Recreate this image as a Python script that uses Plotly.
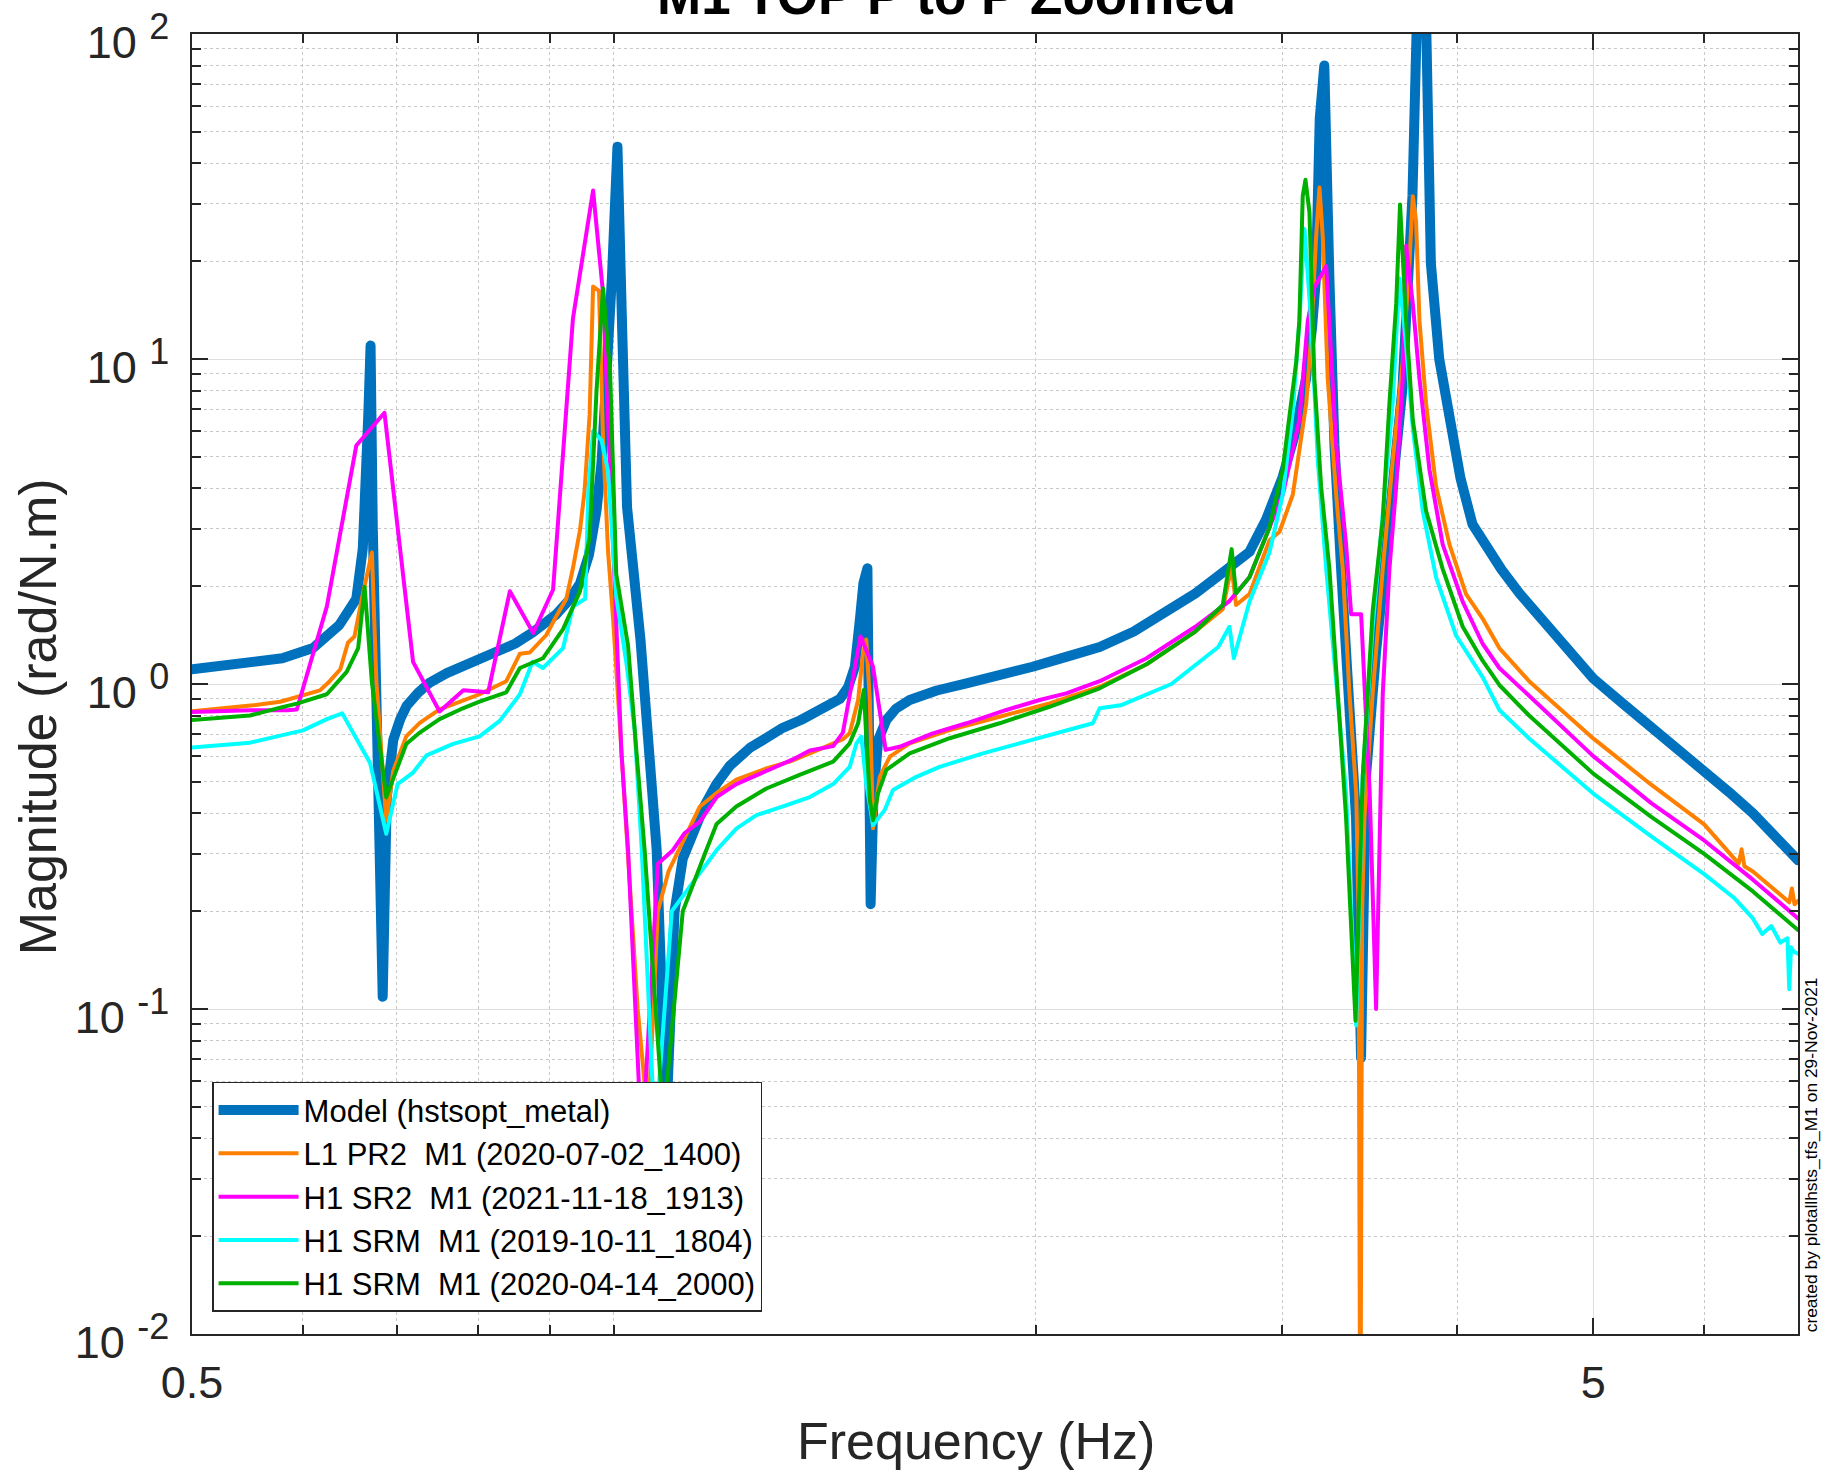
import plotly.graph_objects as go
import numpy as np

# ---------------- data ----------------
model_f = [0.50, 0.55, 0.58, 0.61, 0.637, 0.655, 0.662, 0.668, 0.6705, 0.673, 0.677, 0.681, 0.684,
           0.6886, 0.696, 0.704, 0.7115, 0.725, 0.739, 0.76, 0.781, 0.80, 0.825, 0.85, 0.875, 0.895,
           0.910, 0.93, 0.946, 0.96, 0.972, 0.98, 0.985, 0.992, 0.997, 1.002, 1.006,
           1.014, 1.022, 1.045, 1.073, 1.09, 1.105, 1.12, 1.139, 1.16, 1.1835, 1.21, 1.25, 1.28,
           1.32, 1.36, 1.395, 1.43, 1.45, 1.47, 1.486,
           1.499, 1.507, 1.517, 1.525, 1.532, 1.544, 1.565, 1.59, 1.626, 1.70, 1.785, 1.88, 1.99,
           2.1, 2.222, 2.35, 2.5, 2.6, 2.7, 2.78, 2.842, 2.92, 3.0, 3.06,
           3.119, 3.15, 3.17, 3.19, 3.214, 3.241, 3.268, 3.304, 3.349, 3.386, 3.414, 3.442, 3.499, 3.576,
           3.655, 3.715, 3.746, 3.77, 3.794, 3.808, 3.829, 3.882, 3.946, 4.02, 4.1, 4.2, 4.3, 4.43,
           4.6, 4.8, 5.0, 5.25, 5.5, 5.75, 6.0, 6.25, 6.5, 6.75, 7.0]
model_m = [1.11, 1.17, 1.20, 1.29, 1.52, 1.83, 2.61, 6.7, 11.0, 3.0, 0.8, 0.3, 0.109,
           0.448, 0.673, 0.78, 0.857, 0.94, 1.01, 1.08, 1.14, 1.19, 1.25, 1.33, 1.44, 1.54,
           1.64, 1.82, 2.04, 2.5, 3.42, 4.8, 6.73, 11.0, 18.0, 30.0, 45.0,
           12.0, 3.50, 1.356, 0.308, 0.045, 0.2, 0.29, 0.348, 0.42, 0.492, 0.56, 0.635, 0.68,
           0.733, 0.775, 0.817, 0.87, 0.90, 0.98, 1.13,
           1.61, 2.04, 2.27, 0.21, 0.45, 0.673, 0.775, 0.84, 0.893, 0.955, 1.005, 1.06, 1.13,
           1.21, 1.30, 1.45, 1.70, 1.9, 2.15, 2.35, 2.55, 3.2, 4.31, 5.8,
           8.7, 12.5, 17.7, 55.0, 80.0, 17.7, 5.45, 2.26, 0.936, 0.388, 0.0707, 0.521, 1.25, 3.03,
           8.2, 31.8, 110.0, 400.0, 150.0, 40.0, 19.7, 10.0, 6.5, 4.3, 3.1, 2.6, 2.25, 1.9,
           1.58, 1.28, 1.04, 0.87, 0.74, 0.63, 0.54, 0.465, 0.40, 0.34, 0.287]

l1pr2_f = [0.50, 0.53, 0.555, 0.578, 0.597, 0.617, 0.627, 0.638, 0.646, 0.653, 0.661, 0.672, 0.677,
           0.688, 0.696, 0.711, 0.727, 0.751, 0.777, 0.802, 0.838, 0.857, 0.871, 0.895, 0.910, 0.925,
           0.935, 0.946, 0.953, 0.961, 0.9665, 0.976, 0.9825, 0.9906, 0.9988, 1.007, 1.0126, 1.0237,
           1.04, 1.058, 1.075, 1.094, 1.133, 1.152, 1.184, 1.223, 1.285, 1.335, 1.395, 1.457, 1.4735,
           1.494, 1.506, 1.514, 1.523, 1.531, 1.548, 1.574, 1.626, 1.7365, 1.885, 2.046, 2.222, 2.4,
           2.6, 2.72, 2.76, 2.78, 2.842, 2.937, 2.986, 3.052, 3.120, 3.145, 3.171, 3.1885, 3.206,
           3.232, 3.277, 3.313, 3.3495, 3.387, 3.40, 3.41, 3.42, 3.433, 3.480, 3.538, 3.596, 3.656,
           3.6965, 3.717, 3.737, 3.758, 3.799, 3.862, 3.9475, 4.057, 4.169, 4.285, 4.5, 5.0, 5.5,
           6.0, 6.35, 6.38, 6.41, 6.5, 6.9, 6.93, 6.96, 7.0]
l1pr2_m = [0.825, 0.845, 0.862, 0.882, 0.918, 0.956, 1.02, 1.11, 1.34, 1.40, 1.83, 2.54, 1.01,
           0.38, 0.541, 0.690, 0.759, 0.835, 0.882, 0.930, 1.02, 1.24, 1.25, 1.415, 1.62, 1.83,
           2.27, 2.98, 3.91, 6.73, 16.7, 16.2, 5.63, 2.55, 1.59, 0.899, 0.615, 0.308,
           0.1, 0.045, 0.2, 0.265, 0.359, 0.42, 0.462, 0.508, 0.550, 0.577, 0.624, 0.676, 0.705,
           0.893, 1.24, 1.37, 0.893, 0.36, 0.518, 0.598, 0.657, 0.722, 0.793, 0.872, 0.981, 1.15,
           1.45, 1.7, 2.3, 1.75, 1.89, 2.77, 2.94, 3.83, 7.3, 11.7, 23.7, 33.7, 23.7,
           8.7, 3.83, 2.26, 0.936, 0.462, 0.2, 0.003, 0.2, 0.388, 0.936, 2.26, 4.84, 9.79,
           19.8, 31.7, 26.6, 13.1, 7.3, 4.06, 2.69, 1.89, 1.59, 1.29, 1.02, 0.68, 0.49,
           0.37, 0.28, 0.31, 0.275, 0.265, 0.213, 0.235, 0.21, 0.215]

h1sr2_f = [0.50, 0.55, 0.585, 0.594, 0.624, 0.655, 0.686, 0.719, 0.751, 0.781, 0.8135, 0.843, 0.876,
           0.905, 0.935, 0.9665, 0.9825, 0.996, 1.004, 1.0126, 1.0237, 1.045, 1.05, 1.075, 1.102,
           1.1236, 1.152, 1.184, 1.223, 1.285, 1.342, 1.380, 1.434, 1.457, 1.4735, 1.500, 1.531,
           1.563, 1.599, 1.689, 1.785, 1.906, 2.013, 2.103, 2.222, 2.4, 2.6, 2.75, 2.842, 3.002,
           3.085, 3.128, 3.162, 3.224, 3.277, 3.331, 3.359, 3.4145, 3.463, 3.4995, 3.538, 3.577,
           3.617, 3.656, 3.6765, 3.717, 3.758, 3.820, 3.904, 4.035, 4.169, 4.285, 4.5, 5.0, 5.5,
           6.0, 6.5, 7.0]
h1sr2_m = [0.82, 0.83, 0.83, 0.835, 1.73, 5.42, 6.83, 1.17, 0.823, 0.956, 0.943, 1.93, 1.435,
           1.95, 13.3, 33.0, 15.9, 3.5, 1.36, 0.615, 0.308, 0.045, 0.045, 0.28, 0.308,
           0.348, 0.377, 0.449, 0.492, 0.542, 0.586, 0.624, 0.644, 0.709, 0.936, 1.40, 1.13,
           0.627, 0.641, 0.705, 0.757, 0.832, 0.893, 0.936, 1.02, 1.2, 1.5, 1.8, 2.13, 3.83,
           6.5, 13.1, 16.6, 19.3, 5.45, 2.69, 1.64, 1.64, 0.46, 0.10, 0.936, 2.26,
           4.06, 8.7, 22.3, 14.8, 8.7, 4.57, 2.69, 1.79, 1.33, 1.12, 0.92, 0.6, 0.43,
           0.33, 0.25, 0.19]

h1srm19_f = [0.50, 0.55, 0.60, 0.624, 0.640, 0.670, 0.688, 0.701, 0.719, 0.735, 0.768, 0.802, 0.829,
             0.857, 0.875, 0.890, 0.920, 0.935, 0.954, 0.959, 0.9665, 0.980, 0.9906, 1.004, 1.021,
             1.035, 1.047, 1.07, 1.10, 1.184, 1.223, 1.264, 1.3205, 1.380, 1.434, 1.4735, 1.490,
             1.502, 1.514, 1.531, 1.561, 1.582, 1.644, 1.708, 1.834, 1.990, 2.103, 2.197, 2.222,
             2.3, 2.5, 2.7, 2.75, 2.77, 2.842, 2.937, 3.002, 3.052, 3.085, 3.111, 3.145, 3.180,
             3.224, 3.277, 3.331, 3.387, 3.4235, 3.480, 3.538, 3.596, 3.636, 3.6765, 3.717, 3.778,
             3.862, 3.991, 4.169, 4.285, 4.5, 5.0, 5.5, 6.0, 6.3, 6.5, 6.6, 6.7, 6.8, 6.88, 6.9,
             6.92, 6.95, 7.0]
h1srm19_m = [0.638, 0.66, 0.72, 0.78, 0.812, 0.571, 0.346, 0.492, 0.534, 0.603, 0.654, 0.690, 0.770,
             0.930, 1.17, 1.12, 1.29, 1.73, 1.83, 3.91, 6.0, 5.63, 4.51, 1.86, 1.157,
             0.720, 0.308, 0.04, 0.2, 0.308, 0.359, 0.395, 0.42, 0.449, 0.492, 0.556, 0.657,
             0.688, 0.495, 0.368, 0.41, 0.472, 0.518, 0.556, 0.612, 0.673, 0.722, 0.757, 0.842,
             0.86, 1.0, 1.3, 1.5, 1.2, 1.79, 2.54, 3.83, 6.9, 13.1, 25.1, 13.1, 4.84,
             2.26, 1.05, 0.462, 0.089, 0.52, 1.50, 3.41, 7.3, 17.7, 11.0, 6.13, 3.41,
             2.13, 1.41, 1.05, 0.832, 0.68, 0.46, 0.34, 0.26, 0.22, 0.19, 0.17, 0.18, 0.16, 0.165, 0.115,
             0.155, 0.15, 0.148]

h1srm20_f = [0.50, 0.55, 0.578, 0.594, 0.624, 0.6447, 0.657, 0.664, 0.672, 0.688, 0.711, 0.727, 0.751,
             0.777, 0.802, 0.838, 0.857, 0.890, 0.920, 0.946, 0.961, 0.972, 0.9825, 0.994, 1.004,
             1.0237, 1.038, 1.052, 1.085, 1.12, 1.164, 1.184, 1.223, 1.285, 1.357, 1.434, 1.4735,
             1.494, 1.508, 1.523, 1.531, 1.5435, 1.565, 1.626, 1.7365, 1.885, 2.046, 2.222, 2.4,
             2.6, 2.72, 2.76, 2.78, 2.842, 2.937, 3.002, 3.069, 3.085, 3.102, 3.116, 3.1365, 3.162,
             3.197, 3.241, 3.286, 3.331, 3.383, 3.4235, 3.480, 3.538, 3.577, 3.617, 3.640, 3.6765,
             3.717, 3.799, 3.904, 4.035, 4.169, 4.285, 4.5, 5.0, 5.5, 6.0, 6.5, 7.0]
h1srm20_m = [0.775, 0.80, 0.846, 0.87, 0.930, 1.09, 1.29, 1.99, 1.01, 0.448, 0.654, 0.709, 0.78,
             0.835, 0.882, 0.943, 1.12, 1.20, 1.475, 1.93, 2.83, 8.0, 16.5, 9.0, 2.18,
             1.31, 0.615, 0.308, 0.045, 0.2, 0.308, 0.371, 0.42, 0.477, 0.525, 0.577, 0.657,
             0.757, 0.958, 0.44, 0.381, 0.46, 0.544, 0.612, 0.681, 0.757, 0.851, 0.970, 1.15,
             1.45, 1.75, 2.6, 1.9, 2.13, 3.03, 4.57, 9.79, 13.1, 31.7, 35.6, 28.3, 8.7,
             4.06, 2.26, 0.936, 0.388, 0.092, 0.52, 1.68, 3.21, 7.3, 14.8, 29.9, 13.1,
             6.5, 3.41, 2.26, 1.50, 1.18, 0.993, 0.80, 0.53, 0.39, 0.30, 0.23, 0.175]

legend_names = ["Model (hstsopt_metal)", "L1 PR2  M1 (2020-07-02_1400)", "H1 SR2  M1 (2021-11-18_1913)",
                "H1 SRM  M1 (2019-10-11_1804)", "H1 SRM  M1 (2020-04-14_2000)"]
x_tick_vals = [0.5, 5]
x_tick_text = ["0.5", "5"]
y_tick_vals = [0.01, 0.1, 1, 10, 100]
y_exponents = ["-2", "-1", "0", "1", "2"]
x_minor = [0.6, 0.7, 0.8, 0.9, 1, 2, 3, 4, 6, 7]
y_minor = [m * 10.0 ** e for e in (-2, -1, 0, 1) for m in range(2, 10)]

# ---------------- figure ----------------
FONT = "Liberation Sans, Arial, sans-serif"
AX = "#262626"
y_tick_text = ["10 <sup><span style='font-size:36px'>%s</span></sup>" % e for e in y_exponents]

series = [
    (model_f, model_m, "#0072BD", 10),
    (l1pr2_f, l1pr2_m, "#FF8000", 4),
    (h1sr2_f, h1sr2_m, "#FF00FF", 4),
    (h1srm19_f, h1srm19_m, "#00FFFF", 4),
    (h1srm20_f, h1srm20_m, "#00B000", 4),
]

fig = go.Figure()
for (fx, my, col, w), name in zip(series, legend_names):
    fig.add_trace(go.Scatter(x=fx, y=my, mode="lines", name=name,
                             line=dict(color=col, width=w)))

axis_common = dict(
    type="log", showline=True, linecolor=AX, linewidth=1.5, mirror="ticks",
    ticks="inside", ticklen=16, tickwidth=1.5, tickcolor=AX, automargin=False,
    ticklabeloverflow="allow",
    showgrid=True, gridcolor="#DEDEDE", gridwidth=1, zeroline=False,
    tickfont=dict(family=FONT, size=45, color=AX),
)
minor_common = dict(tickmode="array", ticks="inside", ticklen=9, tickcolor=AX,
                    showgrid=True, gridcolor="#C8C8C8", griddash="dot", gridwidth=1)

fig.update_xaxes(**axis_common, range=[np.log10(0.5), np.log10(7.0)],
                 tickmode="array", tickvals=x_tick_vals, ticktext=x_tick_text,
                 ticklabelstandoff=8, minor=dict(tickvals=x_minor, **minor_common))
fig.update_yaxes(**axis_common, range=[-2, 2],
                 tickmode="array", tickvals=y_tick_vals, ticktext=y_tick_text,
                 ticklabelstandoff=12, ticklabelshift=8,
                 minor=dict(tickvals=y_minor, **minor_common))

fig.update_layout(
    template="none",
    width=1834, height=1473, autosize=False,
    margin=dict(l=192, r=36, t=34, b=139),
    paper_bgcolor="white", plot_bgcolor="white",
    font=dict(family=FONT, color="black"),
    showlegend=True,
    legend=dict(x=0.0125, y=0.017, xanchor="left", yanchor="bottom",
                bgcolor="white", bordercolor=AX, borderwidth=1.5,
                font=dict(family=FONT, size=31, color="black"),
                itemwidth=80, tracegroupgap=0, traceorder="normal"),
    annotations=[
        dict(text="<b>M1 TOP P to P Zoomed</b>", xref="paper", yref="paper", x=0.4695, y=1.0055,
             xanchor="center", yanchor="bottom", showarrow=False,
             font=dict(family=FONT, size=53, color="black")),
        dict(text="Frequency (Hz)", xref="paper", yref="paper", x=0.488, y=-0.0585,
             xanchor="center", yanchor="top", showarrow=False,
             font=dict(family=FONT, size=52, color=AX)),
        dict(text="Magnitude (rad/N.m)", xref="paper", yref="paper", x=-0.096, y=0.475,
             xanchor="center", yanchor="middle", textangle=-90, showarrow=False,
             font=dict(family=FONT, size=52, color=AX)),
        dict(text="created by plotallhsts_tfs_M1 on 29-Nov-2021", xref="paper", yref="paper",
             x=1.0005, y=0.0, xanchor="left", yanchor="bottom", textangle=-90, showarrow=False,
             font=dict(family=FONT, size=17.4, color="black")),
    ],
)

post = (
    "document.body.style.margin='0';document.body.style.overflow='hidden';"
    "document.querySelectorAll('.scatterlayer path.js-line').forEach(function(p){"
    "p.style.strokeLinejoin='round';p.style.strokeLinecap='round';});"
)
fig.write_html("out.html", config={"displayModeBar": False}, post_script=post)
